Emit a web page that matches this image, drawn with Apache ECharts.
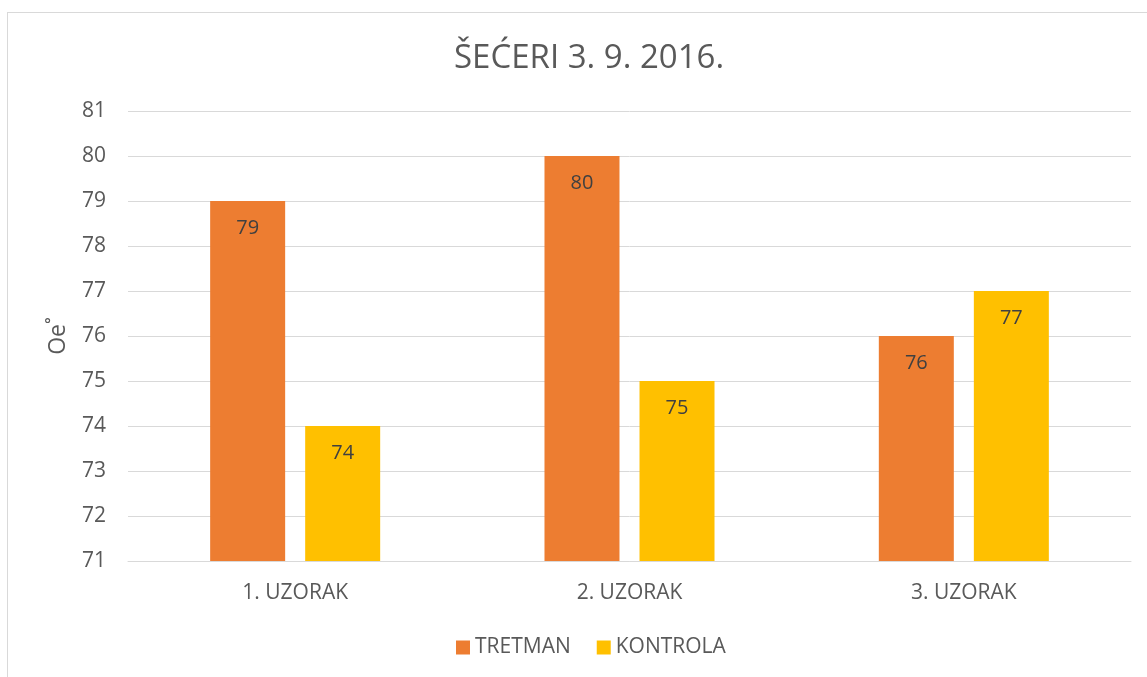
<!DOCTYPE html>
<html><head><meta charset="utf-8">
<script src="https://cdn.jsdelivr.net/npm/echarts@6/dist/echarts.min.js"></script>
<style>html,body{margin:0;padding:0;background:#fff}#frame{position:absolute;left:7px;top:12px;width:1150px;height:680px;border:1px solid #d9d9d9;box-sizing:border-box}#c{position:absolute;left:0;top:0;width:1147px;height:677px}</style>
</head><body><div id="frame"></div><div id="c"></div>
<script>
const title = 'ŠEĆERI 3. 9. 2016.';
const categories = ['1. UZORAK', '2. UZORAK', '3. UZORAK'];
const seriesNames = ['TRETMAN', 'KONTROLA'];
const tretman = [79, 80, 76];
const kontrola = [74, 75, 77];
const yName = 'Oe˚';
const yMin = 71, yMax = 81, yStep = 1;

const font = '"Open Sans", "Noto Sans", sans-serif';
const chart = echarts.init(document.getElementById('c'));
const lbl = {show: true, position: 'insideTop', distance: 17, color: '#404040', fontSize: 20, fontFamily: font};
chart.setOption({
  animation: false,
  title: {text: title, left: 449, top: 37, textStyle: {fontSize: 33, fontWeight: 'normal', color: '#595959', fontFamily: font}},
  legend: {left: 451, bottom: 14, itemWidth: 14, itemHeight: 14, itemGap: 26, icon: 'rect', textStyle: {fontSize: 21, color: '#595959', fontFamily: font}},
  grid: {left: 128, right: 16, top: 111, bottom: 116, containLabel: false},
  xAxis: {type: 'category', data: categories, axisTick: {show: false},
    axisLine: {lineStyle: {color: '#d9d9d9', width: 1}},
    axisLabel: {fontSize: 21, color: '#595959', fontFamily: font, margin: 22}},
  yAxis: {type: 'value', min: yMin, max: yMax, interval: yStep, name: yName, nameLocation: 'middle', nameGap: 58, nameRotate: 90,
    nameTextStyle: {fontSize: 23, color: '#595959', fontFamily: font},
    axisLine: {show: false}, axisTick: {show: false},
    splitLine: {lineStyle: {color: '#d9d9d9', width: 1}},
    axisLabel: {fontSize: 21, color: '#595959', fontFamily: font, margin: 22}},
  series: [
    {name: seriesNames[0], type: 'bar', data: tretman, barWidth: 75, barGap: '26.7%', itemStyle: {color: '#ED7D31'}, label: lbl},
    {name: seriesNames[1], type: 'bar', data: kontrola, barWidth: 75, itemStyle: {color: '#FFC000'}, label: lbl}
  ]
});
</script></body></html>
